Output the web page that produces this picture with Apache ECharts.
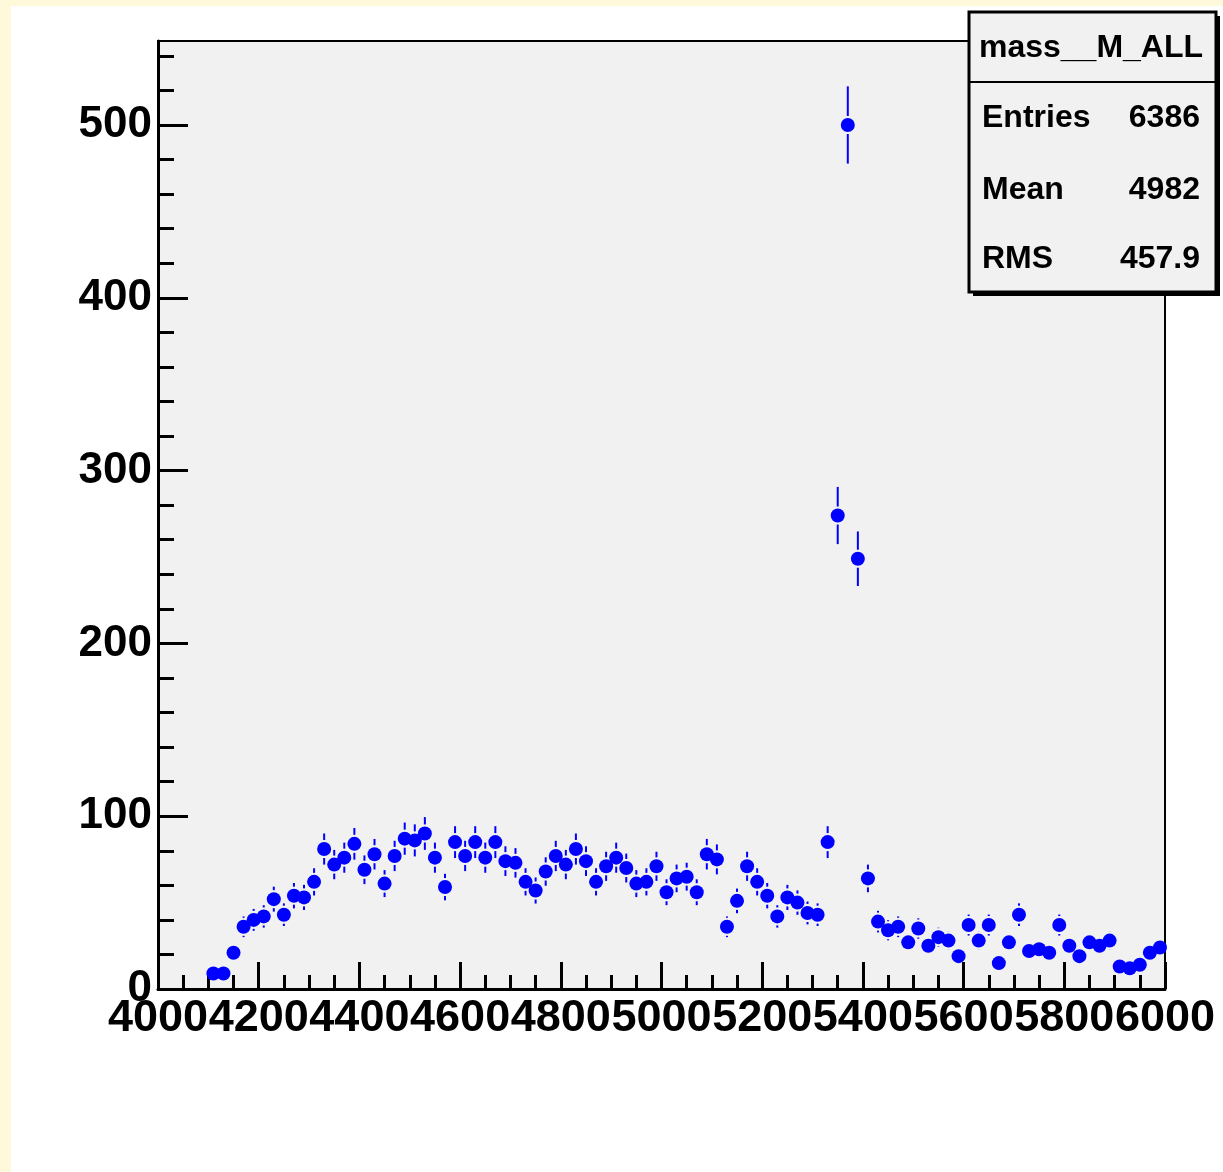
<!DOCTYPE html>
<html>
<head>
<meta charset="utf-8">
<script src="https://cdn.jsdelivr.net/npm/echarts@6/dist/echarts.min.js"></script>
<style>
html,body{margin:0;padding:0;background:#ffffff;}
#chart{width:1223px;height:1172px;}
</style>
</head>
<body>
<div id="chart"></div>
<script>
// ---- data ----
const binCenters = [
  4110,4130,4150,4170,4190,4210,4230,4250,4270,4290,
  4310,4330,4350,4370,4390,4410,4430,4450,4470,4490,
  4510,4530,4550,4570,4590,4610,4630,4650,4670,4690,
  4710,4730,4750,4770,4790,4810,4830,4850,4870,4890,
  4910,4930,4950,4970,4990,5010,5030,5050,5070,5090,
  5110,5130,5150,5170,5190,5210,5230,5250,5270,5290,
  5310,5330,5350,5370,5390,5410,5430,5450,5470,5490,
  5510,5530,5550,5570,5590,5610,5630,5650,5670,5690,
  5710,5730,5750,5770,5790,5810,5830,5850,5870,5890,
  5910,5930,5950,5970,5990
];
const counts = [
  9,9,21,36,40,42,52,43,54,53,
  62,81,72,76,84,69,78,61,77,87,
  86,90,76,59,85,77,85,76,85,74,
  73,62,57,68,77,72,81,74,62,71,
  76,70,61,62,71,56,64,65,56,78,
  75,36,51,71,62,54,42,53,50,44,
  43,85,274,500,249,64,39,34,36,27,
  35,25,30,28,19,37,28,37,15,27,
  43,22,23,21,37,25,19,27,25,28,
  13,12,14,21,24
];
const xMajorTicks = [4000,4200,4400,4600,4800,5000,5200,5400,5600,5800,6000];
const yMajorTicks = [0,100,200,300,400,500];
const statsTitle = 'mass__M_ALL';
const statsNames = ['Entries','Mean','RMS'];
const statsValues = ['6386','4982','457.9'];

// minor tick positions (axis structure)
const xMinorTicks = [];
for (let v = 4050; v < 6000; v += 50) if (v % 200 !== 0) xMinorTicks.push(v);
const yMinorTicks = [];
for (let v = 20; v <= 540; v += 20) if (v % 100 !== 0) yMinorTicks.push(v);

const FONT = '"Liberation Sans", Arial, Helvetica, sans-serif';
const BLUE = '#0000ff';

const points = binCenters.map((x, i) => [x, counts[i]]);
const errPoints = binCenters.map((x, i) => [x, counts[i], Math.sqrt(counts[i])]);

const chart = echarts.init(document.getElementById('chart'), null, {renderer: 'canvas'});

function axisBase(min, max) {
  return {
    type: 'value', min: min, max: max,
    splitLine: {show: false},
    minorTick: {show: false},
    minorSplitLine: {show: false}
  };
}

const option = {
  backgroundColor: '#ffffff',
  animation: false,
  grid: {
    left: 158, right: 58, top: 41, bottom: 183,
    show: true, backgroundColor: '#f1f1f1',
    borderColor: '#000000', borderWidth: 2,
    outerBoundsMode: 'none', containLabel: false
  },
  xAxis: [
    Object.assign(axisBase(4000, 6000), {
      position: 'bottom',
      axisLine: {show: true, onZero: false, lineStyle: {color: '#000', width: 3}},
      axisTick: {show: true, inside: true, length: 27, customValues: xMajorTicks,
                 lineStyle: {color: '#000', width: 3}},
      axisLabel: {show: true, customValues: xMajorTicks, margin: 7,
                  color: '#000', fontSize: 45, fontWeight: 'bold', fontFamily: FONT,
                  formatter: v => String(v)}
    }),
    Object.assign(axisBase(4000, 6000), {
      position: 'bottom',
      axisLine: {show: false},
      axisTick: {show: true, inside: true, length: 14, customValues: xMinorTicks,
                 lineStyle: {color: '#000', width: 3}},
      axisLabel: {show: false}
    })
  ],
  yAxis: [
    Object.assign(axisBase(0, 548.6), {
      position: 'left',
      axisLine: {show: true, onZero: false, lineStyle: {color: '#000', width: 3}},
      axisTick: {show: true, inside: true, length: 30, customValues: yMajorTicks,
                 lineStyle: {color: '#000', width: 3}},
      axisLabel: {show: true, customValues: yMajorTicks, margin: 6,
                  color: '#000', fontSize: 44, fontWeight: 'bold', fontFamily: FONT,
                  formatter: v => String(v)}
    }),
    Object.assign(axisBase(0, 548.6), {
      position: 'left',
      axisLine: {show: false},
      axisTick: {show: true, inside: true, length: 16, customValues: yMinorTicks,
                 lineStyle: {color: '#000', width: 3}},
      axisLabel: {show: false}
    })
  ],
  series: [
    {
      type: 'custom',
      xAxisIndex: 0, yAxisIndex: 0,
      data: errPoints,
      encode: {x: 0, y: 1},
      clip: true,
      z: 3,
      renderItem: function (params, api) {
        const x = api.value(0), y = api.value(1), e = api.value(2);
        const c = api.coord([x, y]);
        const top = api.coord([x, y + e])[1];
        const bot = api.coord([x, y - e])[1];
        const gap = 9;
        const children = [];
        if (c[1] - gap > top) {
          children.push({type: 'line', shape: {x1: c[0], y1: top, x2: c[0], y2: c[1] - gap},
                         style: {stroke: BLUE, lineWidth: 2}});
        }
        if (bot > c[1] + gap) {
          children.push({type: 'line', shape: {x1: c[0], y1: c[1] + gap, x2: c[0], y2: bot},
                         style: {stroke: BLUE, lineWidth: 2}});
        }
        return {type: 'group', children: children};
      }
    },
    {
      type: 'scatter',
      xAxisIndex: 0, yAxisIndex: 0,
      data: points,
      symbol: 'circle',
      symbolSize: 14,
      itemStyle: {color: BLUE, opacity: 1},
      z: 4,
      emphasis: {disabled: true}
    }
  ],
  graphic: [
    // canvas border (yellow band)
    {type: 'rect', z: -10, shape: {x: 0, y: 0, width: 11, height: 1172}, style: {fill: '#fff9dc'}},
    {type: 'rect', z: -10, shape: {x: 0, y: 0, width: 1223, height: 6}, style: {fill: '#fff9dc'}},
    // stats box
    {type: 'rect', z: 100, shape: {x: 973, y: 16, width: 247, height: 280}, style: {fill: '#000'}},
    {type: 'rect', z: 101, shape: {x: 969, y: 12, width: 247, height: 280},
     style: {fill: '#f1f1f1', stroke: '#000', lineWidth: 3}},
    {type: 'line', z: 102, shape: {x1: 969, y1: 82, x2: 1216, y2: 82},
     style: {stroke: '#000', lineWidth: 2}},
    {type: 'text', z: 103, style: {x: 1091, y: 48, text: statsTitle, textAlign: 'center',
     textVerticalAlign: 'middle', font: 'bold 32px ' + FONT, fill: '#000'}},
    ...statsNames.map((n, i) => ({type: 'text', z: 103, style: {x: 982, y: [118, 190, 259][i], text: n,
      textAlign: 'left', textVerticalAlign: 'middle', font: 'bold 32px ' + FONT, fill: '#000'}})),
    ...statsValues.map((v, i) => ({type: 'text', z: 103, style: {x: 1200, y: [118, 190, 259][i], text: v,
      textAlign: 'right', textVerticalAlign: 'middle', font: 'bold 32px ' + FONT, fill: '#000'}}))
  ]
};

chart.setOption(option);
</script>
</body>
</html>
